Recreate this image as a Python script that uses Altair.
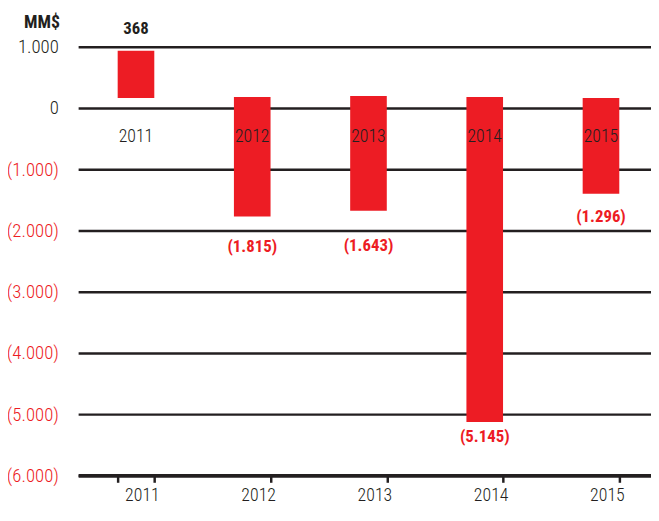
import altair as alt
import pandas as pd

years = ["2011", "2012", "2013", "2014", "2015"]
bar_top = [935, 177, 194, 177, 161]
bar_bottom = [161, -1774, -1677, -5129, -1403]
value_labels = ["368", "(1.815)", "(1.643)", "(5.145)", "(1.296)"]
label_anchor = [1290, -2274, -2258, -5371, -1774]
is_negative = [False, True, True, True, True]
y_ticks = [1000, 0, -1000, -2000, -3000, -4000, -5000, -6000]

RED = "#ed1c24"
DARK = "#231f20"
FONT = "Roboto Condensed"

df = pd.DataFrame({
    "year": years, "top": bar_top, "bottom": bar_bottom,
    "label": value_labels, "anchor": label_anchor, "neg": is_negative,
})

xscale = alt.Scale(type="band", domain=years, paddingInner=0.685, paddingOuter=0.3065, align=0.555)
yscale = alt.Scale(domain=[-6000, 1000], nice=False, zero=False)

x_enc = alt.X("year:N", scale=xscale, sort=years, axis=alt.Axis(
    title=None, domain=True, domainColor=DARK, domainWidth=4,
    ticks=True, tickBand="extent", tickColor=DARK, tickWidth=2.5, tickSize=7,
    labelFont=FONT, labelFontSize=18, labelColor=DARK, labelPadding=13,
    labelAngle=0, labelBaseline="middle", labelFontWeight=300, labelOffset=6, grid=False,
))

bars = alt.Chart(df).mark_bar(color=RED).encode(
    x=x_enc,
    y=alt.Y("top:Q", scale=yscale, axis=alt.Axis(
        values=y_ticks, title="MM$", titleAngle=0, titleAlign="right",
        titleX=-19, titleY=-24, titleBaseline="middle", titleFont=FONT,
        titleFontSize=18, titleFontWeight="bold", titleColor=DARK,
        domain=False, ticks=False, grid=True, gridColor=DARK, gridWidth=2.5,
        gridOpacity=1,
        labelFont=FONT, labelFontSize=19, labelFontWeight=300, labelPadding=20,
        labelExpr="datum.value == 0 ? '0' : (datum.value < 0 ? '(' + replace(format(-datum.value, ','), ',', '.') + ')' : replace(format(datum.value, ','), ',', '.'))",
        labelColor=alt.ExprRef(expr=f"datum.value < 0 ? '{RED}' : '{DARK}'"),
    )),
    y2="bottom:Q",
)

inner = alt.Chart(df).mark_text(
    font=FONT, fontSize=18, fontWeight=300, color=DARK, baseline="middle", align="center"
).encode(
    x=alt.X("year:N", scale=xscale, sort=years),
    y=alt.Y(datum=-480, scale=yscale),
    text="year:N",
)

vals = alt.Chart(df).mark_text(
    font=FONT, fontSize=17, fontWeight="bold", baseline="middle", align="center"
).encode(
    x=alt.X("year:N", scale=xscale, sort=years),
    y=alt.Y("anchor:Q", scale=yscale),
    text="label:N",
    color=alt.Color("neg:N", scale=alt.Scale(domain=[False, True], range=[DARK, RED]), legend=None),
)

chart = alt.layer(bars, inner, vals).properties(
    width=580, height=434,
    background="white",
    autosize=alt.AutoSizeParams(type="none"),
    padding={"left": 71, "top": 36, "right": 0, "bottom": 43},
).configure_view(stroke=None, strokeWidth=0).configure_axisY(domain=False)

chart.save("out.html", embed_options={"renderer": "svg", "actions": False})
